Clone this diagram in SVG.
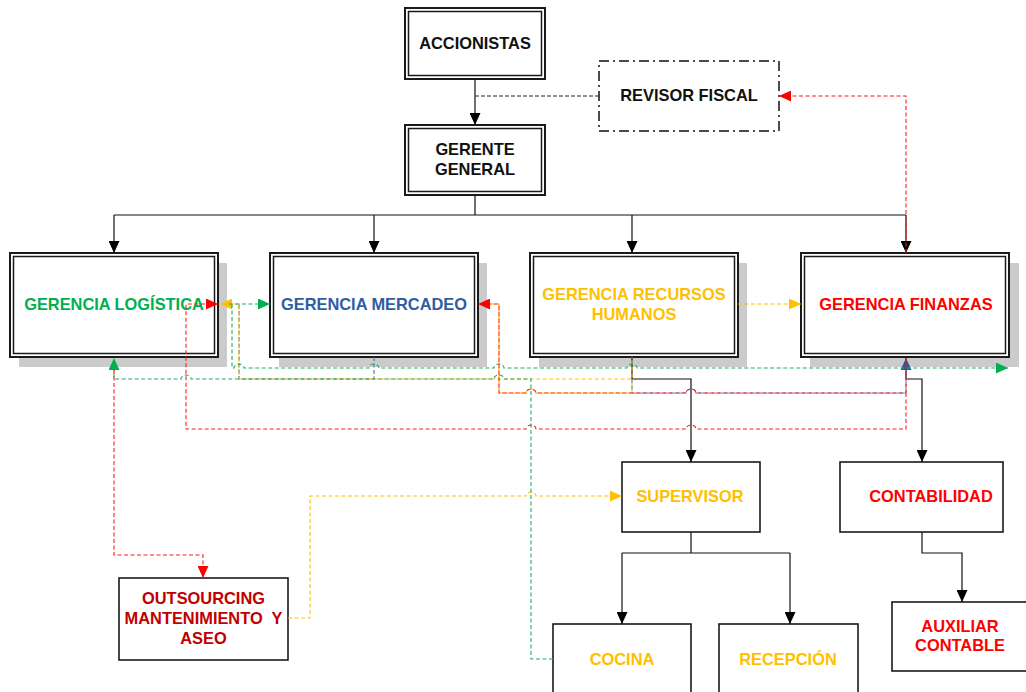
<svg xmlns="http://www.w3.org/2000/svg" width="1026" height="692" viewBox="0 0 1026 692">
<style>
.t{font-family:"Liberation Sans",Arial,sans-serif;font-weight:bold;font-size:16.4px;text-anchor:middle}
.ob{fill:#fff;stroke:#1a1a1a;stroke-width:2}
.ib{fill:none;stroke:#1a1a1a;stroke-width:1.5}
.sb{fill:#fff;stroke:#1a1a1a;stroke-width:1.6}
.sh{fill:#cbcbcb}
.k{fill:none;stroke:#111;stroke-width:1.2}
.kd{fill:none;stroke:#222;stroke-width:1;stroke-dasharray:4 2}
.r{fill:none;stroke:#ff1a1a;stroke-width:1.1;stroke-dasharray:4 2.5}
.g{fill:none;stroke:#1eb060;stroke-width:1.1;stroke-dasharray:4 2.5}
.y{fill:none;stroke:#ffc000;stroke-width:1.1;stroke-dasharray:4 2.5}
.b{fill:none;stroke:#4a6fa8;stroke-width:1.1;stroke-dasharray:4 2.5}
.off{stroke-dashoffset:3.2}
</style>
<defs>
<marker id="mk" viewBox="0 0 12 11" markerWidth="12" markerHeight="11" refX="12" refY="5.5" orient="auto" markerUnits="userSpaceOnUse"><path d="M0,0L12,5.5L0,11z" fill="#000"/></marker>
<marker id="mr" viewBox="0 0 12 11" markerWidth="12" markerHeight="11" refX="12" refY="5.5" orient="auto" markerUnits="userSpaceOnUse"><path d="M0,0L12,5.5L0,11z" fill="#ff0000"/></marker>
<marker id="mg" viewBox="0 0 12 11" markerWidth="12" markerHeight="11" refX="12" refY="5.5" orient="auto" markerUnits="userSpaceOnUse"><path d="M0,0L12,5.5L0,11z" fill="#00b050"/></marker>
<marker id="my" viewBox="0 0 12 11" markerWidth="12" markerHeight="11" refX="12" refY="5.5" orient="auto" markerUnits="userSpaceOnUse"><path d="M0,0L12,5.5L0,11z" fill="#ffc000"/></marker>
<marker id="mb" viewBox="0 0 12 11" markerWidth="12" markerHeight="11" refX="12" refY="5.5" orient="auto" markerUnits="userSpaceOnUse"><path d="M0,0L12,5.5L0,11z" fill="#2f5597"/></marker>
</defs>

<g id="shadows">
<rect class="sh" x="19" y="263" width="208" height="104"/>
<rect class="sh" x="279" y="263" width="208" height="104"/>
<rect class="sh" x="539" y="263" width="208" height="104"/>
<rect class="sh" x="810" y="263" width="209" height="104"/>
</g>

<g id="accionistas">
<rect class="ob" x="405" y="8" width="140" height="71"/>
<rect class="ib" x="408.5" y="11.5" width="133" height="64"/>
<text class="t" x="475" y="49" fill="#111">ACCIONISTAS</text>
</g>
<g id="gerente-general">
<rect class="ob" x="405" y="125" width="140" height="70"/>
<rect class="ib" x="408.5" y="128.5" width="133" height="63"/>
<text class="t" x="475" y="155" fill="#111">GERENTE</text>
<text class="t" x="475" y="175" fill="#111">GENERAL</text>
</g>
<g id="revisor-fiscal">
<rect x="599" y="61" width="180" height="70" fill="#fff" stroke="#111" stroke-width="1.5" stroke-dasharray="10 4 2 4"/>
<text class="t" x="689" y="101" fill="#111">REVISOR FISCAL</text>
</g>
<g id="gerencia-logistica">
<rect class="ob" x="10" y="253" width="208" height="104"/>
<rect class="ib" x="13.5" y="256.5" width="201" height="97"/>
<text class="t" x="114" y="310" fill="#00b050">GERENCIA LOGÍSTICA</text>
</g>
<g id="gerencia-mercadeo">
<rect class="ob" x="270" y="253" width="208" height="104"/>
<rect class="ib" x="273.5" y="256.5" width="201" height="97"/>
<text class="t" x="374" y="310" fill="#2f5ea3">GERENCIA MERCADEO</text>
</g>
<g id="gerencia-rrhh">
<rect class="ob" x="530" y="253" width="208" height="104"/>
<rect class="ib" x="533.5" y="256.5" width="201" height="97"/>
<text class="t" x="634" y="300" fill="#ffc000">GERENCIA RECURSOS</text>
<text class="t" x="634" y="320" fill="#ffc000">HUMANOS</text>
</g>
<g id="gerencia-finanzas">
<rect class="ob" x="801" y="253" width="208" height="104"/>
<rect class="ib" x="804.5" y="256.5" width="201" height="97"/>
<text class="t" x="906" y="310" fill="#ff0000">GERENCIA FINANZAS</text>
</g>
<g id="supervisor">
<rect class="sb" x="622" y="462" width="138" height="70"/>
<text class="t" x="690" y="502" fill="#ffc000">SUPERVISOR</text>
</g>
<g id="contabilidad">
<rect class="sb" x="840" y="462" width="163" height="70"/>
<text class="t" x="931" y="502" fill="#ff0000">CONTABILIDAD</text>
</g>
<g id="cocina">
<rect class="sb" x="553" y="624" width="138" height="80"/>
<text class="t" x="622" y="665" fill="#ffc000">COCINA</text>
</g>
<g id="recepcion">
<rect class="sb" x="719" y="624" width="139" height="80"/>
<text class="t" x="788" y="665" fill="#ffc000">RECEPCIÓN</text>
</g>
<g id="auxiliar-contable">
<rect class="sb" x="892" y="602" width="140" height="69"/>
<text class="t" x="960" y="632" fill="#ff0000">AUXILIAR</text>
<text class="t" x="960" y="651" fill="#ff0000">CONTABLE</text>
</g>
<g id="outsourcing">
<rect class="sb" x="119" y="578" width="169" height="82"/>
<text class="t" x="203.5" y="604" fill="#c00000">OUTSOURCING</text>
<text class="t" x="203.5" y="624" fill="#c00000" xml:space="preserve">MANTENIMIENTO  Y</text>
<text class="t" x="203.5" y="644" fill="#c00000">ASEO</text>
</g>

<g id="connectors">
<!-- black solid -->
<path class="k" d="M475,79V125" marker-end="url(#mk)"/>
<path class="k" d="M475,195V215M114,215H906"/>
<path class="k" d="M114,215V253" marker-end="url(#mk)"/>
<path class="k" d="M374,215V253" marker-end="url(#mk)"/>
<path class="k" d="M632,215V253" marker-end="url(#mk)"/>
<path class="k" d="M906,215V253" marker-end="url(#mk)"/>
<path class="k" d="M632,357V379H691V462" marker-end="url(#mk)"/>
<path class="k" d="M906,357V379H922V462" marker-end="url(#mk)"/>
<path class="k" d="M691,532V553M622,553H790"/>
<path class="k" d="M622,553V624" marker-end="url(#mk)"/>
<path class="k" d="M790,553V624" marker-end="url(#mk)"/>
<path class="k" d="M922,532V553H962V602" marker-end="url(#mk)"/>
<path class="kd" d="M599,96H475"/>
<!-- blue -->
<path class="b" d="M374,357V379H239V304"/>
<path class="b" d="M632,379V393H686A5,4 0 0 1 696,393H906V358" marker-end="url(#mb)"/>
<!-- yellow -->
<path class="y off" d="M632,357V379H239V304H220" marker-end="url(#my)"/>
<path class="y off" d="M632,379V393H536A5,4 0 0 0 526,393H499V304H485"/>
<path class="y" d="M738,304H801" marker-end="url(#my)"/>
<path class="y" d="M288,618H310V496H526A5,4 0 0 1 536,496H622" marker-end="url(#my)"/>
<!-- green -->
<path class="g" d="M229,304H270" marker-end="url(#mg)"/>
<path class="g" d="M232,304V368H234A5,4 0 0 1 244,368H369A5,4 0 0 1 379,368H494A5,4 0 0 1 504,368H627A5,4 0 0 1 637,368H1008" marker-end="url(#mg)"/>
<path class="g" d="M553,659H531V379H504A5,4 0 0 0 494,379H191A5,4 0 0 0 181,379H114V358" marker-end="url(#mg)"/>
<!-- red -->
<path class="r" d="M906,253V96H779" marker-end="url(#mr)"/>
<path class="r" d="M906,358V393H696A5,4 0 0 0 686,393H536A5,4 0 0 0 526,393H499V304H478" marker-end="url(#mr)"/>
<path class="r" d="M906,393V429H696A5,4 0 0 0 686,429H536A5,4 0 0 0 526,429H186V304H218" marker-end="url(#mr)"/>
<path class="r" d="M114,370V555H203V578" marker-end="url(#mr)"/>
</g>
</svg>
